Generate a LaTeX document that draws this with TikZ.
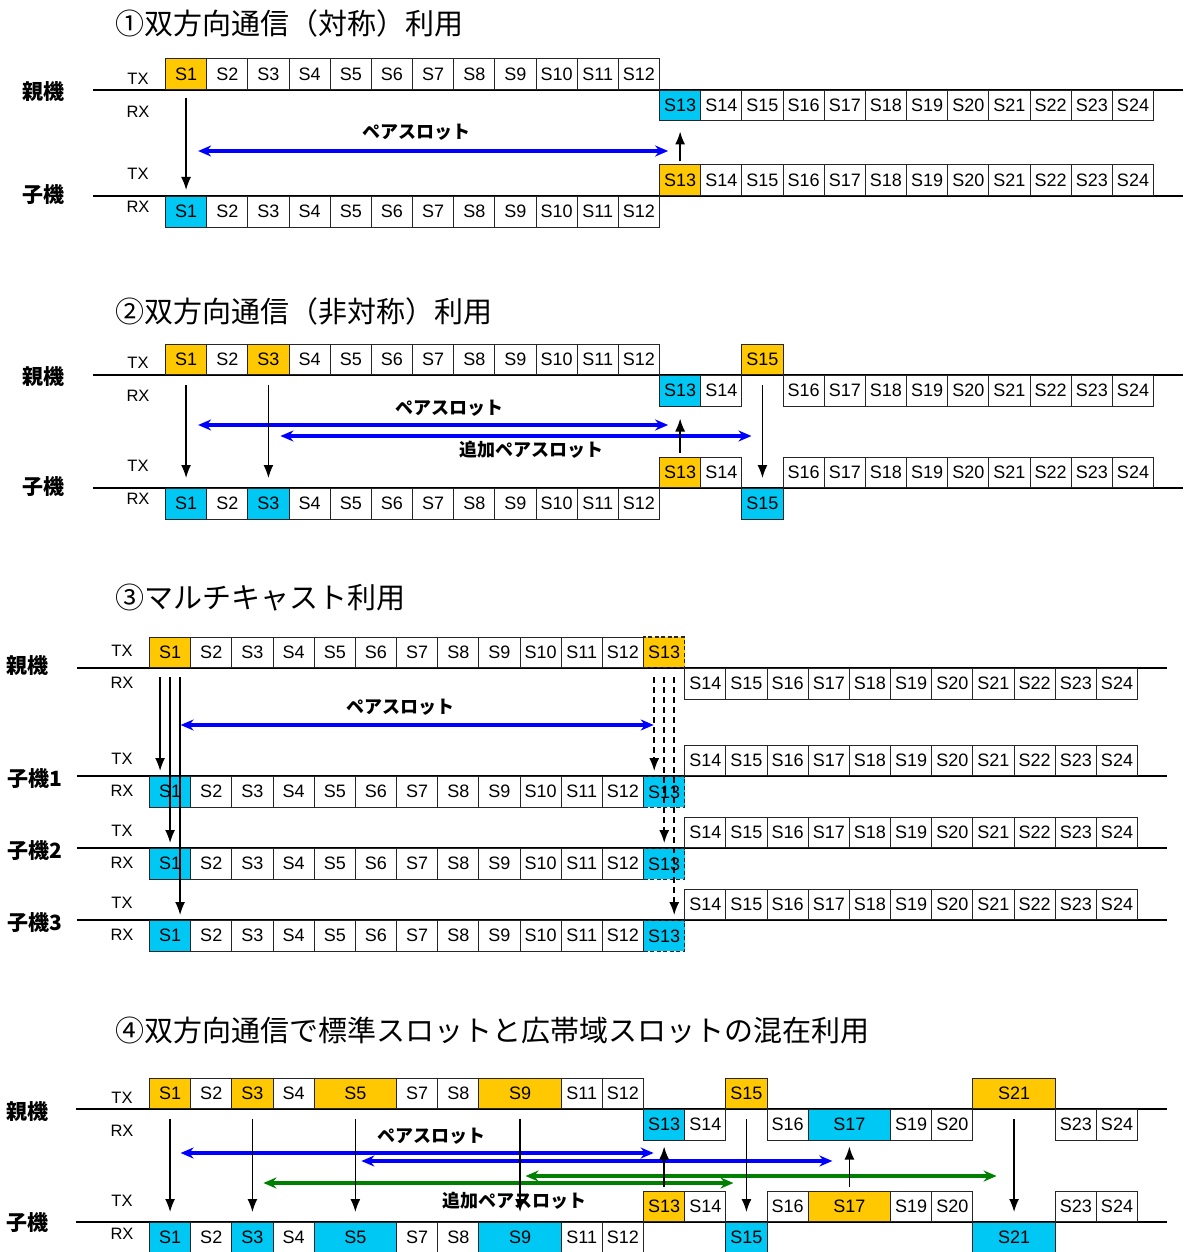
\documentclass[tikz,border=0pt]{standalone}
\usepackage{fontspec}
\setmainfont{Liberation Sans}
\newfontfamily\jp{Noto Sans CJK JP}
\usetikzlibrary{arrows.meta,calc}

\definecolor{txyel}{HTML}{FFC800}
\definecolor{rxcyan}{HTML}{00C8F5}
\definecolor{pairblue}{HTML}{0000FF}
\definecolor{addgreen}{HTML}{008000}

\tikzset{
  slot/.style={draw=black!85, line width=1pt, inner sep=0pt, fill=white,
    minimum width=41.17pt, minimum height=30.5pt,
    font=\fontsize{18}{18}\selectfont},
  txslot/.style={slot, anchor=south west},
  rxslot/.style={slot, anchor=north west},
  dslot/.style={line width=1.2pt, dash pattern=on 4pt off 2.5pt},
  tline/.style={line width=1.8pt},
  trx/.style={inner sep=0pt, font=\fontsize{16.5}{16.5}\selectfont},
  unit/.style={inner sep=0pt, font=\jp\bfseries\fontsize{21}{21}\selectfont},
  ttl/.style={inner sep=0pt, anchor=west, font=\jp\fontsize{29}{29}\selectfont},
  plabel/.style={inner sep=0pt, font=\jp\bfseries\fontsize{18}{18}\selectfont},
  flow/.style={line width=1.5pt, -{Latex[length=13pt,width=10pt]}},
  dflow/.style={flow, dash pattern=on 6pt off 4pt},
  pair/.style={line width=3.5pt, pairblue,
    {Stealth[length=13pt,width=11pt]}-{Stealth[length=13pt,width=11pt]}},
  addpair/.style={pair, addgreen},
}

\begin{document}
\begin{tikzpicture}[x=1pt,y=-1pt]
\useasboundingbox (0,0) rectangle (1184,1252);

% ---------- (1) symmetric ----------
\node[ttl] (t1) at (115,23) {①双方向通信（対称）利用};
\draw[tline] (93,90) -- (1183,90);
\draw[tline] (93,196) -- (1183,196);
\node[unit] (u1p) at (43,92) {親機};
\node[unit] (u1c) at (43,195) {子機};
\node[trx] (x1pt) at (138,79) {TX};
\node[trx] (x1pr) at (138,112) {RX};
\node[trx] (x1ct) at (138,174) {TX};
\node[trx] (x1cr) at (138,207) {RX};

\foreach \i in {1,...,12}{
  \def\fc{white}\ifnum\i=1 \def\fc{txyel}\fi
  \node[txslot, fill=\fc] (p1t\i) at ({165+(\i-1)*41.17},90) {S\i};
  \def\fc{white}\ifnum\i=1 \def\fc{rxcyan}\fi
  \node[rxslot, fill=\fc] (c1r\i) at ({165+(\i-1)*41.17},196) {S\i};
}
\foreach \i in {13,...,24}{
  \def\fc{white}\ifnum\i=13 \def\fc{rxcyan}\fi
  \node[rxslot, fill=\fc] (p1r\i) at ({165+(\i-1)*41.17},90) {S\i};
  \def\fc{white}\ifnum\i=13 \def\fc{txyel}\fi
  \node[txslot, fill=\fc] (c1t\i) at ({165+(\i-1)*41.17},196) {S\i};
}

\coordinate (pr1) at (0,151);
\draw[pair, shorten <=12pt, shorten >=12pt] (p1t1 |- pr1) -- (c1t13 |- pr1);
\draw[flow, shorten <=8pt, shorten >=6pt] (p1t1) -- (c1r1);
\draw[flow, shorten <=3pt, shorten >=10pt] (c1t13) -- (p1r13);
\node[plabel] (l1) at (416,132) {ペアスロット};

% ---------- (2) asymmetric ----------
\node[ttl] (t2) at (115,311) {②双方向通信（非対称）利用};
\draw[tline] (93,375) -- (1183,375);
\draw[tline] (93,488) -- (1183,488);
\node[unit] (u2p) at (43,377) {親機};
\node[unit] (u2c) at (43,487) {子機};
\node[trx] (x2pt) at (138,363) {TX};
\node[trx] (x2pr) at (138,396) {RX};
\node[trx] (x2ct) at (138,466) {TX};
\node[trx] (x2cr) at (138,499) {RX};

\foreach \i in {1,...,12,15}{
  \def\fc{white}
  \ifnum\i=1 \def\fc{txyel}\fi \ifnum\i=3 \def\fc{txyel}\fi \ifnum\i=15 \def\fc{txyel}\fi
  \node[txslot, fill=\fc] (p2t\i) at ({165+(\i-1)*41.17},375) {S\i};
  \def\fc{white}
  \ifnum\i=1 \def\fc{rxcyan}\fi \ifnum\i=3 \def\fc{rxcyan}\fi \ifnum\i=15 \def\fc{rxcyan}\fi
  \node[rxslot, fill=\fc] (c2r\i) at ({165+(\i-1)*41.17},488) {S\i};
}
\foreach \i in {13,14,16,17,...,24}{
  \def\fc{white}\ifnum\i=13 \def\fc{rxcyan}\fi
  \node[rxslot, fill=\fc] (p2r\i) at ({165+(\i-1)*41.17},375) {S\i};
  \def\fc{white}\ifnum\i=13 \def\fc{txyel}\fi
  \node[txslot, fill=\fc] (c2t\i) at ({165+(\i-1)*41.17},488) {S\i};
}

\coordinate (pr2a) at (0,425);
\coordinate (pr2b) at (0,436);
\draw[pair, shorten <=12pt, shorten >=12pt] (p2t1 |- pr2a) -- (c2t13 |- pr2a);
\draw[pair, shorten <=12pt, shorten >=11pt] (p2t3 |- pr2b) -- (p2t15 |- pr2b);
\draw[flow, shorten <=10pt, shorten >=10pt] (p2t1) -- (c2r1);
\draw[flow, shorten <=10pt, shorten >=10pt] (p2t3) -- (c2r3);
\draw[flow, shorten <=10pt, shorten >=10pt] (p2t15) -- (c2r15);
\draw[flow, shorten <=4pt, shorten >=12pt] (c2t13) -- (p2r13);
\node[plabel] (l2a) at (449,408) {ペアスロット};
\node[plabel] (l2b) at (531,450) {追加ペアスロット};

% ---------- (3) multicast ----------
\node[ttl] (t3) at (115,598) {③マルチキャスト利用};
\draw[tline] (77,668) -- (1167,668);
\node[unit] (u3p) at (27,666) {親機};
\node[trx] (x3pt) at (122,651) {TX};
\node[trx] (x3pr) at (122,683) {RX};
\foreach \i in {1,...,12}{
  \def\fc{white}\ifnum\i=1 \def\fc{txyel}\fi
  \node[txslot, fill=\fc] (p3t\i) at ({149+(\i-1)*41.17},668) {S\i};
}
\node[txslot, dslot, fill=txyel] (p3t13) at ({149+12*41.17},668) {S13};
\foreach \i in {14,...,24}
  \node[rxslot] (p3r\i) at ({149+(\i-1)*41.17},668) {S\i};

\foreach \n/\y in {1/776,2/848,3/920}{
  \draw[tline] (77,\y) -- (1167,\y);
  \node[unit] (u3c\n) at (35,\y+3) {子機\n};
  \node[trx] (x3t\n) at (122,\y-17) {TX};
  \node[trx] (x3r\n) at (122,\y+15) {RX};
  \foreach \i in {14,...,24}
    \node[txslot] (k\n t\i) at ({149+(\i-1)*41.17},\y) {S\i};
  \foreach \i in {1,...,12}{
    \def\fc{white}\ifnum\i=1 \def\fc{rxcyan}\fi
    \node[rxslot, fill=\fc] (k\n r\i) at ({149+(\i-1)*41.17},\y) {S\i};
  }
  \node[rxslot, dslot, fill=rxcyan] (k\n r13) at ({149+12*41.17},\y) {S13};
}

\coordinate (pr3) at (0,725);
\draw[pair, shorten <=10.5pt, shorten >=10.5pt] (p3t1 |- pr3) -- (p3t13 |- pr3);
\draw[flow] ($(p3t1.south)+(-10,9)$) -- ($(k1r1.north)+(-10,-5)$);
\draw[flow] ($(p3t1.south)+(0,9)$) -- ($(k2r1.north)+(0,-5)$);
\draw[flow] ($(p3t1.south)+(10,9)$) -- ($(k3r1.north)+(10,-5)$);
\draw[dflow] ($(p3t13.south)+(-10,9)$) -- ($(k1r13.north)+(-10,-5)$);
\draw[dflow] ($(p3t13.south)+(0,9)$) -- ($(k2r13.north)+(0,-5)$);
\draw[dflow] ($(p3t13.south)+(10,9)$) -- ($(k3r13.north)+(10,-5)$);
\node[plabel] (l3) at (400,707) {ペアスロット};

% ---------- (4) standard + wide slots ----------
\node[ttl] (t4) at (115,1030) {④双方向通信で標準スロットと広帯域スロットの混在利用};
\draw[tline] (76,1109) -- (1167,1109);
\draw[tline] (76,1222) -- (1167,1222);
\node[unit] (u4p) at (27,1112) {親機};
\node[unit] (u4c) at (27,1223) {子機};
\node[trx] (x4pt) at (122,1098) {TX};
\node[trx] (x4pr) at (122,1131) {RX};
\node[trx] (x4ct) at (122,1201) {TX};
\node[trx] (x4cr) at (122,1234) {RX};

% name/index/colour/width
\foreach \n/\k/\fc/\w in {1/0/txyel/41.17, 2/1/white/41.17, 3/2/txyel/41.17,
    4/3/white/41.17, 5/4/txyel/82.34, 7/6/white/41.17, 8/7/white/41.17,
    9/8/txyel/82.34, 11/10/white/41.17, 12/11/white/41.17, 15/14/txyel/41.17,
    21/20/txyel/82.34}
  \node[txslot, fill=\fc, minimum width=\w pt] (p4t\n) at ({149+\k*41.17},1109) {S\n};
\foreach \n/\k/\fc/\w in {1/0/rxcyan/41.17, 2/1/white/41.17, 3/2/rxcyan/41.17,
    4/3/white/41.17, 5/4/rxcyan/82.34, 7/6/white/41.17, 8/7/white/41.17,
    9/8/rxcyan/82.34, 11/10/white/41.17, 12/11/white/41.17, 15/14/rxcyan/41.17,
    21/20/rxcyan/82.34}
  \node[rxslot, fill=\fc, minimum width=\w pt] (c4r\n) at ({149+\k*41.17},1222) {S\n};
\foreach \n/\k/\fc/\w in {13/12/rxcyan/41.17, 14/13/white/41.17, 16/15/white/41.17,
    17/16/rxcyan/82.34, 19/18/white/41.17, 20/19/white/41.17, 23/22/white/41.17,
    24/23/white/41.17}
  \node[rxslot, fill=\fc, minimum width=\w pt] (p4r\n) at ({149+\k*41.17},1109) {S\n};
\foreach \n/\k/\fc/\w in {13/12/txyel/41.17, 14/13/white/41.17, 16/15/white/41.17,
    17/16/txyel/82.34, 19/18/white/41.17, 20/19/white/41.17, 23/22/white/41.17,
    24/23/white/41.17}
  \node[txslot, fill=\fc, minimum width=\w pt] (c4t\n) at ({149+\k*41.17},1222) {S\n};

\coordinate (pr4a) at (0,1153);
\coordinate (pr4b) at (0,1161);
\coordinate (pr4c) at (0,1176);
\coordinate (pr4d) at (0,1183);
\draw[pair, shorten <=10.5pt, shorten >=10.5pt] (p4t1 |- pr4a) -- (c4t13 |- pr4a);
\draw[pair, shorten <=6pt, shorten >=17pt] (p4t5 |- pr4b) -- (c4t17 |- pr4b);
\draw[addpair, shorten <=5.5pt, shorten >=17.5pt] (p4t9 |- pr4c) -- (p4t21 |- pr4c);
\draw[addpair, shorten <=11pt, shorten >=13pt] (p4t3 |- pr4d) -- (p4t15 |- pr4d);
\foreach \n in {1,3,5,9,15,21}
  \draw[flow, shorten <=10pt, shorten >=10pt] (p4t\n) -- (c4r\n);
\draw[flow, shorten <=4pt, shorten >=6pt] (c4t13) -- (p4r13);
\draw[flow, shorten <=4pt, shorten >=6pt] (c4t17) -- (p4r17);
\node[plabel] (l4a) at (431,1136) {ペアスロット};
\node[plabel] (l4b) at (514,1201) {追加ペアスロット};

\end{tikzpicture}
\end{document}
